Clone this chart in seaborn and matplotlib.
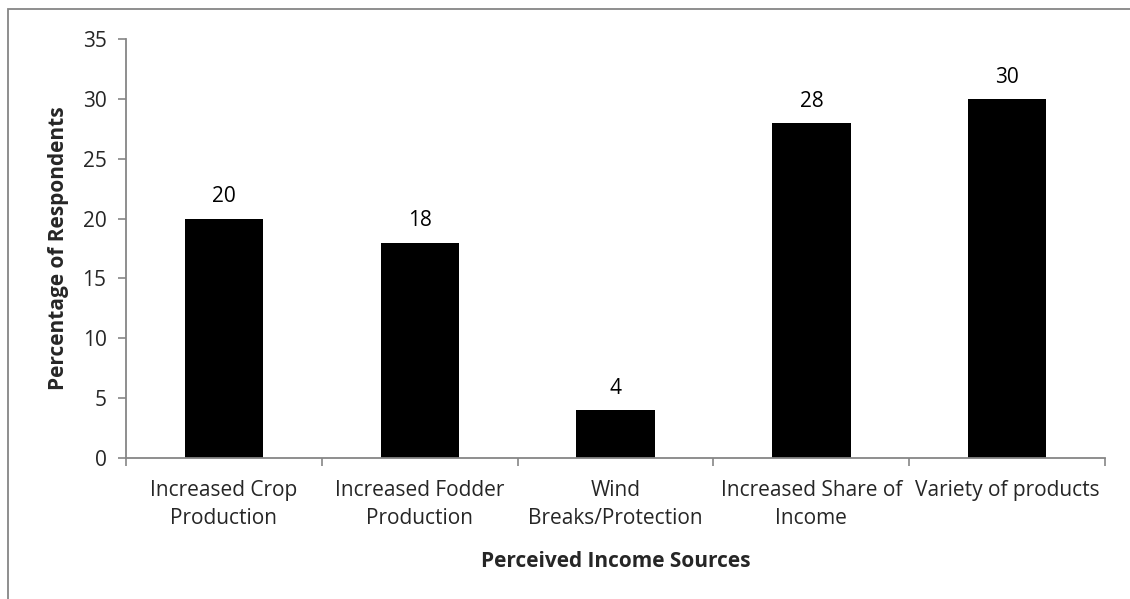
import matplotlib
matplotlib.use("Agg")
import matplotlib.pyplot as plt
import seaborn as sns
import pandas as pd
from matplotlib.patches import Rectangle

# chart data
categories = ["Increased Crop\nProduction", "Increased Fodder\nProduction",
              "Wind\nBreaks/Protection", "Increased Share of\nIncome",
              "Variety of products"]
percentages = [20, 18, 4, 28, 30]
y_ticks = [0, 5, 10, 15, 20, 25, 30, 35]

df = pd.DataFrame({"Source": categories, "Percent": percentages})

sns.set_style("white")
plt.rcParams["font.family"] = ["Open Sans", "DejaVu Sans"]

fs = 15

fig = plt.figure(figsize=(11.3, 5.99), dpi=100)
ax = fig.add_axes([0.1115, 0.2354, 0.8665, 0.6995])

sns.barplot(data=df, x="Source", y="Percent", color="black", width=0.4,
            saturation=1, edgecolor="black", linewidth=0, ax=ax)

# data labels above bars
for i, v in enumerate(percentages):
    ax.annotate(str(v), (i, v), xytext=(0, 8), textcoords="offset points",
                ha="center", va="bottom", fontsize=fs, color="black")

ax.set_xlim(-0.5, len(categories) - 0.5)
ax.set_ylim(0, 35)
ax.set_yticks(y_ticks)
ax.tick_params(axis="y", labelsize=fs, length=6, width=1.2, color="#868686",
               direction="out", pad=8, left=True)

# category labels centred, ticks at the category boundaries
ax.set_xticks(range(len(categories)))
ax.set_xticklabels(categories, fontsize=fs, linespacing=1.4)
ax.tick_params(axis="x", which="major", length=0, pad=16)
ax.set_xticks([i - 0.5 for i in range(len(categories) + 1)], minor=True)
ax.tick_params(axis="x", which="minor", length=6, width=1.2, color="#868686",
               direction="out", bottom=True)

for side in ["top", "right"]:
    ax.spines[side].set_visible(False)
for side in ["left", "bottom"]:
    ax.spines[side].set_color("#868686")
    ax.spines[side].set_linewidth(1.3)

ax.set_xlabel("Perceived Income Sources", fontsize=fs, fontweight="bold",
              labelpad=16)
ax.set_ylabel("Percentage of Respondents", fontsize=fs, fontweight="bold",
              labelpad=10)

# chart area border (only left and top visible in the crop)
fig.add_artist(Rectangle((8 / 1130, -0.1), 1.2, 1 - 9 / 599 + 0.1,
                         transform=fig.transFigure, fill=False,
                         edgecolor="#868686", linewidth=1.3))

fig.savefig("out.png", dpi=100, facecolor="white")
